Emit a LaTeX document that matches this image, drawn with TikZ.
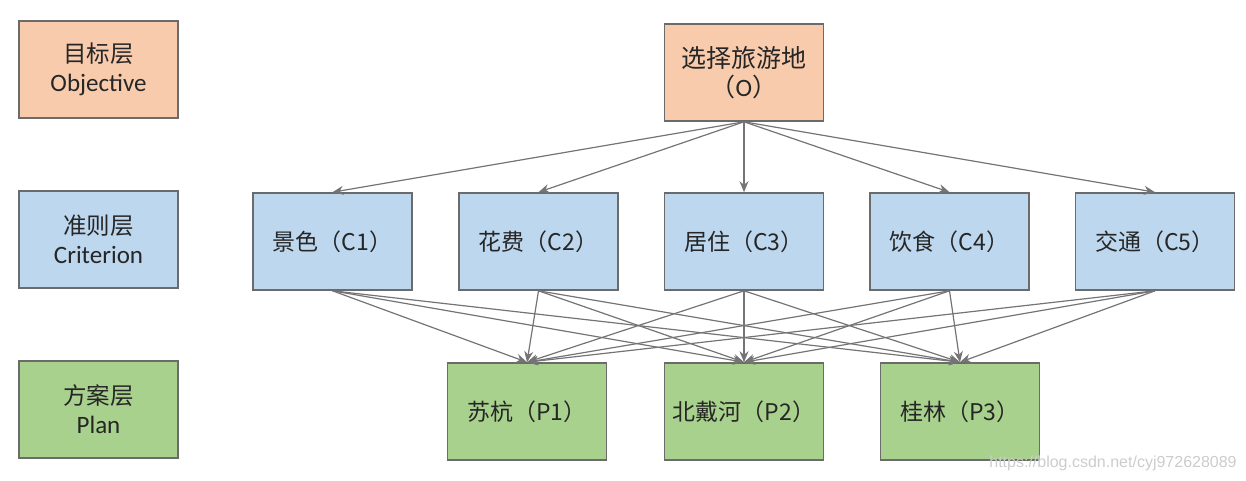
\documentclass[tikz,border=0pt]{standalone}
\usepackage{fontspec}
\setmainfont{Carlito}
\newfontfamily\cjk{Noto Sans CJK SC}
\newfontfamily\wmfont{Liberation Sans}
\usetikzlibrary{arrows.meta}
\definecolor{objfill}{HTML}{F8CBAD}
\definecolor{crifill}{HTML}{BDD7EE}
\definecolor{plafill}{HTML}{A9D18E}
\definecolor{edgegray}{HTML}{6B6B6B}
\definecolor{arrgray}{HTML}{747474}
\tikzset{
  box/.style={draw=edgegray, line width=1.6pt, minimum width=159pt, minimum height=97pt, inner sep=0pt, align=center, text=black!85},
  obj/.style={box, fill=objfill},
  cri/.style={box, fill=crifill},
  pla/.style={box, fill=plafill},
  lbl/.style={font=\fontsize{25}{29}\selectfont},
  cont/.style={font=\cjk\fontsize{23}{28}\selectfont},
  arr/.style={draw=arrgray, line width=1.2pt, -{Stealth[length=11pt,width=9pt]}},
}
\begin{document}
\begin{tikzpicture}[x=1pt,y=-1pt]
\useasboundingbox (0,0) rectangle (1246,481);
% left legend
\node[obj,lbl] (lo) at (98.5,69.5) {{\cjk\fontsize{23.5}{29}\selectfont 目标层}\\Objective};
\node[cri,lbl] (lc) at (98.5,239.5) {{\cjk\fontsize{23.5}{29}\selectfont 准则层}\\Criterion};
\node[pla,lbl] (lp) at (98.5,409.5) {{\cjk\fontsize{23.5}{29}\selectfont 方案层}\\Plan};
% objective
\node[obj,font=\fontsize{25}{29}\selectfont] (O) at (744,72.5) {{\cjk 选择旅游地}\\{\cjk （}O{\cjk ）}};
% criteria
\node[cri,cont] (C1) at (332.5,241.5) {景色（C1）};
\node[cri,cont] (C2) at (538.5,241.5) {花费（C2）};
\node[cri,cont] (C3) at (744,241.5) {居住（C3）};
\node[cri,cont] (C4) at (949.5,241.5) {饮食（C4）};
\node[cri,cont] (C5) at (1155,241.5) {交通（C5）};
% plans
\node[pla,cont] (P1) at (527,411.5) {苏杭（P1）};
\node[pla,cont] (P2) at (744,411.5) {北戴河（P2）};
\node[pla,cont] (P3) at (960,411.5) {桂林（P3）};
% arrows
\foreach \c in {C1,C2,C3,C4,C5}{
  \draw[arr] (O.south) -- (\c.north);
  \foreach \p in {P1,P2,P3}{
    \draw[arr] (\c.south) -- (\p.north);
  }
}
% watermark
\node[font=\wmfont\fontsize{16}{18}\selectfont, text=black!20, anchor=center] (wm) at (1113,463) {https://blog.csdn.net/cyj972628089};
\end{tikzpicture}
\end{document}
